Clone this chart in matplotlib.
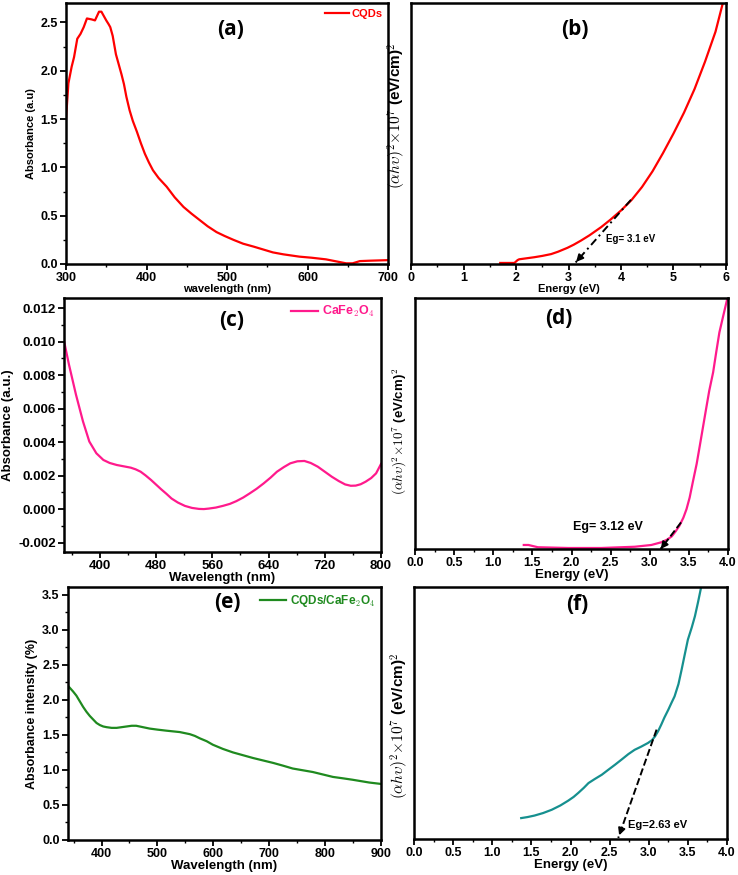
import matplotlib
matplotlib.use('Agg')
import matplotlib.pyplot as plt
from matplotlib.ticker import MultipleLocator, NullLocator

plt.rcParams['font.family'] = ['Liberation Sans', 'DejaVu Sans']
plt.rcParams['font.weight'] = 'bold'
plt.rcParams['mathtext.fontset'] = 'cm'

# (a) CQDs absorbance
wl_a = [300, 303, 307, 310, 314, 318, 322, 326, 332, 336, 341, 344, 350, 353, 355, 358, 362,
        365, 369, 372, 375, 379, 383, 388, 393, 398, 403, 408, 415, 425, 435, 446, 456, 466,
        476, 487, 497, 508, 520, 533, 545, 557, 570, 590, 605, 623, 648, 656, 665, 677, 700]
abs_a = [1.50, 1.87, 2.04, 2.14, 2.33, 2.38, 2.45, 2.54, 2.53, 2.52, 2.61, 2.61, 2.52, 2.48,
         2.45, 2.36, 2.17, 2.08, 1.96, 1.86, 1.73, 1.59, 1.48, 1.37, 1.25, 1.14, 1.05, 0.97,
         0.89, 0.80, 0.69, 0.59, 0.52, 0.455, 0.39, 0.33, 0.29, 0.25, 0.21, 0.18, 0.15, 0.12,
         0.10, 0.076, 0.065, 0.048, 0.007, 0.007, 0.03, 0.034, 0.04]

# (b) CQDs Tauc plot
en_b = [1.70, 1.97, 2.03, 2.06, 2.35, 2.50, 2.67, 2.80, 2.98, 3.10, 3.24, 3.40, 3.62, 3.80,
        4.00, 4.20, 4.40, 4.60, 4.80, 5.00, 5.20, 5.40, 5.60, 5.80, 5.94]
tauc_b = [0.04, 0.04, 0.15, 0.18, 0.26, 0.31, 0.38, 0.47, 0.62, 0.74, 0.90, 1.10, 1.41, 1.70,
          2.05, 2.45, 2.95, 3.55, 4.25, 5.00, 5.80, 6.70, 7.75, 8.90, 10.0]
fit_b_x = [4.19, 3.11]
fit_b_y = [2.46, 0.0]

# (c) CaFe2O4 absorbance
wl_c = [348, 356, 366, 376, 385, 395, 405, 414, 424, 434, 444, 451, 458, 465, 473, 480, 487,
        495, 502, 511, 521, 531, 541, 548, 555, 565, 575, 585, 594, 604, 613, 623, 633, 643,
        652, 662, 671, 681, 691, 700, 710, 720, 730, 740, 749, 757, 764, 771, 778, 786, 793,
        800]
abs_c = [0.01024, 0.00864, 0.00684, 0.00524, 0.00404, 0.00334, 0.00294, 0.00276, 0.00264,
         0.00256, 0.00248, 0.00238, 0.00224, 0.00202, 0.00174, 0.00147, 0.0012, 0.00091,
         0.00064, 0.0004, 0.0002, 0.00008, 0.00002, 0.00001, 0.00004, 0.0001, 0.0002, 0.00032,
         0.00048, 0.0007, 0.00094, 0.00122, 0.00154, 0.00189, 0.00224, 0.00252, 0.00274,
         0.00286, 0.00288, 0.00276, 0.00254, 0.00224, 0.00194, 0.00168, 0.00148, 0.0014,
         0.00141, 0.00149, 0.00164, 0.00186, 0.00214, 0.0027]

# (d) CaFe2O4 Tauc plot
en_d = [1.39, 1.45, 1.57, 1.96, 2.38, 2.81, 3.02, 3.15, 3.22, 3.28, 3.33, 3.38, 3.43, 3.47,
        3.51, 3.55, 3.60, 3.64, 3.68, 3.72, 3.76, 3.81, 3.85, 3.89, 3.94, 3.99]
tauc_d = [0.16, 0.16, 0.07, 0.04, 0.04, 0.09, 0.16, 0.27, 0.37, 0.50, 0.70, 0.93, 1.25, 1.59,
          2.05, 2.66, 3.40, 4.12, 4.85, 5.58, 6.30, 7.04, 7.85, 8.63, 9.30, 9.96]
fit_d_x = [3.40, 3.14]
fit_d_y = [1.06, 0.0]

# (e) CQDs/CaFe2O4 absorbance
wl_e = [340, 349, 355, 361, 367, 373, 379, 385, 391, 397, 403, 409, 418, 427, 436, 445, 454,
        462, 474, 486, 500, 516, 528, 540, 549, 558, 567, 576, 588, 599, 617, 635, 653, 671,
        689, 707, 725, 742, 760, 778, 796, 814, 832, 849, 864, 879, 900]
abs_e = [2.20, 2.12, 2.06, 1.98, 1.90, 1.83, 1.77, 1.72, 1.67, 1.64, 1.62, 1.61, 1.60, 1.60,
         1.61, 1.62, 1.63, 1.63, 1.61, 1.59, 1.575, 1.56, 1.55, 1.54, 1.525, 1.51, 1.485, 1.45,
         1.41, 1.36, 1.30, 1.25, 1.21, 1.17, 1.135, 1.10, 1.06, 1.02, 0.995, 0.97, 0.935, 0.90,
         0.88, 0.86, 0.84, 0.82, 0.80]

# (f) CQDs/CaFe2O4 Tauc plot
en_f = [1.37, 1.45, 1.54, 1.65, 1.76, 1.87, 1.97, 2.04, 2.10, 2.17, 2.23, 2.31, 2.40, 2.48,
        2.57, 2.66, 2.74, 2.82, 2.90, 2.99, 3.04, 3.08, 3.12, 3.16, 3.20, 3.25, 3.29, 3.33,
        3.38, 3.42, 3.46, 3.50, 3.55, 3.59, 3.63, 3.67]
tauc_f = [0.83, 0.87, 0.93, 1.03, 1.16, 1.33, 1.52, 1.67, 1.83, 2.03, 2.22, 2.38, 2.55, 2.74,
          2.95, 3.17, 3.37, 3.54, 3.66, 3.81, 3.92, 4.07, 4.28, 4.54, 4.82, 5.13, 5.40, 5.66,
          6.15, 6.72, 7.32, 7.91, 8.40, 8.84, 9.40, 10.0]
fit_f_x = [3.10, 2.61]
fit_f_y = [4.34, 0.04]

RED = '#ff0000'
PINK = '#ff1a8c'
GREEN = '#1f8a1f'
TEAL = '#16908f'

W, H = 738, 875
fig = plt.figure(figsize=(W / 100, H / 100), dpi=100)


def box(l, r, t, b):
    return fig.add_axes([l / W, (H - b) / H, (r - l) / W, (b - t) / H])


def style(ax, size=9):
    for s in ax.spines.values():
        s.set_linewidth(1.8)
    ax.tick_params(which='major', direction='out', length=4, width=1.3, labelsize=size, pad=2)
    ax.tick_params(which='minor', direction='out', length=2.5, width=1.0)
    for lab in ax.get_xticklabels() + ax.get_yticklabels():
        lab.set_fontweight('bold')


tauc_label = r'$(\alpha h\upsilon)^2{\times}10^7$ (eV/cm)$^{\mathbf{2}}$'


def tauc_axes(ax, size, xpos, ypos):
    ax.yaxis.set_major_locator(NullLocator())
    ax.yaxis.set_minor_locator(NullLocator())
    ax.set_ylim(0, 10)
    ax.set_ylabel(tauc_label, fontsize=size, fontweight='bold')
    ax.yaxis.set_label_coords(xpos, ypos)


def fit_arrow(ax, xs, ys, ls):
    ax.plot(xs, ys, color='k', lw=1.4, ls=ls)
    dx = xs[1] - xs[0]
    dy = ys[1] - ys[0]
    ax.annotate('', xy=(xs[1], ys[1]), xytext=(xs[1] - 0.12 * dx, ys[1] - 0.12 * dy),
                arrowprops=dict(arrowstyle='-|>', color='k', lw=1.4, mutation_scale=10))


title_kw = dict(fontsize=15, fontweight='bold', family=['Open Sans', 'DejaVu Sans'],
                ha='center', va='center')

# ---- (a)
ax = box(66, 388, 3, 264)
ax.plot(wl_a, abs_a, color=RED, lw=1.6, label='CQDs')
ax.set_xlim(300, 700)
ax.set_ylim(0, 2.7)
ax.xaxis.set_major_locator(MultipleLocator(100))
ax.xaxis.set_minor_locator(MultipleLocator(50))
ax.yaxis.set_major_locator(MultipleLocator(0.5))
ax.yaxis.set_minor_locator(MultipleLocator(0.25))
ax.set_xlabel('wavelength (nm)', fontsize=8, fontweight='bold', labelpad=0)
ax.set_ylabel('Absorbance (a.u)', fontsize=8, fontweight='bold', labelpad=3)
ax.legend(loc='upper right', frameon=False, handlelength=2.2,
          handletextpad=0.2, borderaxespad=0.1, labelcolor=RED, prop={'weight': 'bold', 'size': 8})
ax.text(0.51, 0.9, '(a)', transform=ax.transAxes, **title_kw)
style(ax)

# ---- (b)
ax = box(411, 726, 3, 264)
ax.plot(en_b, tauc_b, color=RED, lw=1.6)
ax.set_xlim(0, 6)
ax.xaxis.set_major_locator(MultipleLocator(1))
ax.xaxis.set_minor_locator(MultipleLocator(0.5))
fit_arrow(ax, fit_b_x, fit_b_y, (0, (4, 2, 1, 2)))
ax.text(3.72, 0.96, 'Eg= 3.1 eV', fontsize=7, fontweight='bold', va='center')
ax.set_xlabel('Energy (eV)', fontsize=8, fontweight='bold', labelpad=0)
tauc_axes(ax, 11, -0.01, 0.57)
ax.text(0.52, 0.9, '(b)', transform=ax.transAxes, **title_kw)
style(ax)

# ---- (c)
ax = box(64, 381, 298, 552)
ax.plot(wl_c, abs_c, color=PINK, lw=1.6, label=r'CaFe$_\mathbf{2}$O$_\mathbf{4}$')
ax.set_xlim(349, 800)
ax.set_ylim(-0.00255, 0.0126)
ax.xaxis.set_major_locator(MultipleLocator(80))
ax.xaxis.set_minor_locator(MultipleLocator(40))
ax.yaxis.set_major_locator(MultipleLocator(0.002))
ax.yaxis.set_minor_locator(MultipleLocator(0.001))
ax.yaxis.set_major_formatter(plt.FuncFormatter(lambda v, p: f'{v:.3f}'))
ax.set_xlabel('Wavelength (nm)', fontsize=9.5, fontweight='bold', labelpad=0)
ax.set_ylabel('Absorbance (a.u.)', fontsize=9.5, fontweight='bold', labelpad=3)
ax.legend(loc='upper right', frameon=False, handlelength=2.2, handletextpad=0.3,
          borderaxespad=0.1, labelcolor=PINK, prop={'weight': 'bold', 'size': 9})
ax.text(0.53, 0.91, '(c)', transform=ax.transAxes, **title_kw)
style(ax, 9.5)

# ---- (d)
ax = box(415, 728, 298, 549)
ax.plot(en_d, tauc_d, color=PINK, lw=1.6)
ax.set_xlim(0, 4)
ax.xaxis.set_major_locator(MultipleLocator(0.5))
ax.xaxis.set_minor_locator(MultipleLocator(0.25))
fit_arrow(ax, fit_d_x, fit_d_y, '--')
ax.text(2.02, 0.88, 'Eg= 3.12 eV', fontsize=9, fontweight='bold', va='center')
ax.set_xlabel('Energy (eV)', fontsize=9.5, fontweight='bold', labelpad=0)
tauc_axes(ax, 9.5, -0.02, 0.47)
ax.text(0.46, 0.92, '(d)', transform=ax.transAxes, **title_kw)
style(ax)

# ---- (e)
ax = box(68, 381, 587, 840)
ax.plot(wl_e, abs_e, color=GREEN, lw=1.6, label=r'CQDs/CaFe$_2$O$_4$')
ax.set_xlim(340, 900)
ax.set_ylim(0, 3.61)
ax.xaxis.set_major_locator(MultipleLocator(100))
ax.xaxis.set_minor_locator(MultipleLocator(50))
ax.yaxis.set_major_locator(MultipleLocator(0.5))
ax.yaxis.set_minor_locator(MultipleLocator(0.25))
ax.set_xlabel('Wavelength (nm)', fontsize=9.5, fontweight='bold', labelpad=0)
ax.set_ylabel('Absorbance intensity (%)', fontsize=9, fontweight='bold', labelpad=3)
ax.legend(loc='upper right', frameon=False, handlelength=2.2, handletextpad=0.3,
          borderaxespad=0.1, labelcolor=GREEN, prop={'weight': 'bold', 'size': 8.5})
ax.text(0.51, 0.94, '(e)', transform=ax.transAxes, **title_kw)
style(ax)

# ---- (f)
ax = box(414, 727, 587, 839)
ax.plot(en_f, tauc_f, color=TEAL, lw=1.6)
ax.set_xlim(0, 4)
ax.xaxis.set_major_locator(MultipleLocator(0.5))
ax.xaxis.set_minor_locator(MultipleLocator(0.25))
fit_arrow(ax, fit_f_x, fit_f_y, '--')
ax.text(2.73, 0.55, 'Eg=2.63 eV', fontsize=8, fontweight='bold', va='center')
ax.set_xlabel('Energy (eV)', fontsize=9.5, fontweight='bold', labelpad=0)
tauc_axes(ax, 11, -0.01, 0.45)
ax.text(0.52, 0.93, '(f)', transform=ax.transAxes, **title_kw)
style(ax)

fig.savefig('out.png', dpi=100)
